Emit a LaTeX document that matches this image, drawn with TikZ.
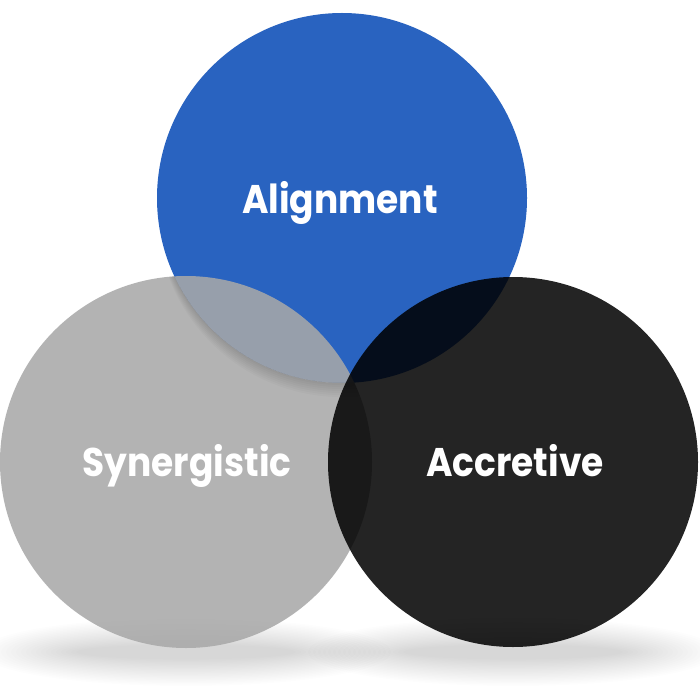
\documentclass[tikz,border=0pt]{standalone}
\usepackage{fontspec}
\newfontfamily\labelfont{Poppins}
\begin{document}
\begin{tikzpicture}[x=1pt,y=-1pt,
  blueset/.style={fill={rgb,255:red,41;green,99;blue,192}},
  grayset/.style={fill={rgb,255:red,168;green,168;blue,168},fill opacity=0.87},
  darkset/.style={fill=black,fill opacity=0.86},
  caption/.style={text=white,font=\labelfont\bfseries\fontsize{40}{48}\selectfont,anchor=base}]
  % canvas
  \fill[white] (0,0) rectangle (700,700);
  \useasboundingbox (0,0) rectangle (700,700);

  % soft floor shadows below the two lower circles
  \foreach \k in {0,...,19}{
    \fill[black,opacity=0.008] (186,652) ellipse ({205-5*\k} and {34-1.4*\k});
    \fill[black,opacity=0.008] (513,652) ellipse ({205-5*\k} and {34-1.4*\k});
  }

  % circles
  \fill[blueset] (342,198) circle (185);
  \coordinate (cA) at (342,198);
  \fill[grayset] (186,462) circle (186);
  \coordinate (cS) at (186,462);

  % shadow of the top circle cast on the left circle
  \begin{scope}
    \clip (186,462) circle (186);
    \begin{scope}[even odd rule]
      \clip (0,0) rectangle (700,700) (342,198) circle (185);
      \foreach \k in {2,4,...,14}
        \fill[black,opacity=0.02] (342,198+\k) circle (185);
    \end{scope}
  \end{scope}

  \fill[darkset] (513,462) circle (185);
  \coordinate (cC) at (513,462);

  % labels
  \node[caption] (alignment) at (340,214) {\scalebox{0.9}[1]{Alignment}};
  \node[caption] (synergy) at (187,476) {\scalebox{0.9}[1]{Synergistic}};
  \node[caption] (accretive) at (515,476) {\scalebox{0.9}[1]{Accretive}};
\end{tikzpicture}
\end{document}
